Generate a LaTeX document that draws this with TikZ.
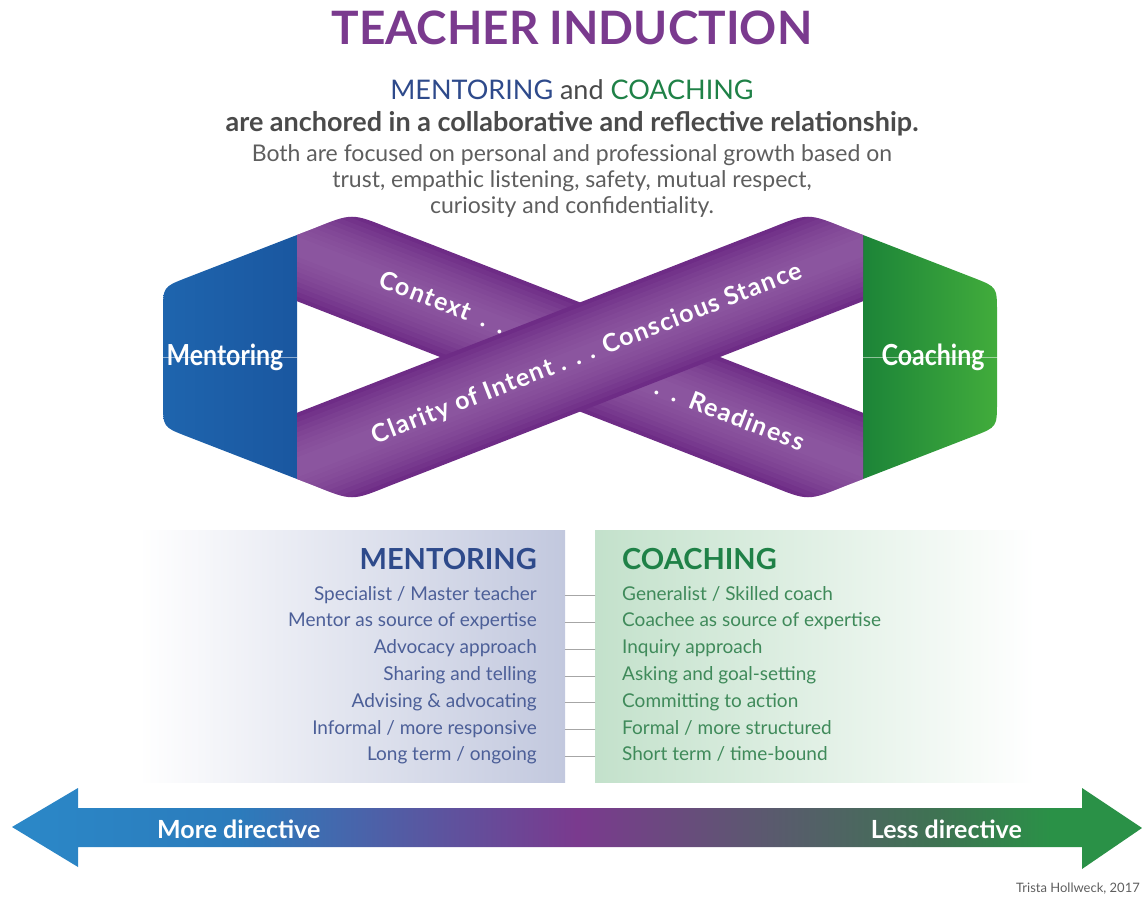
\documentclass[tikz,border=0pt]{standalone}
\usepackage{fontspec}
\setmainfont{Lato}
\newfontfamily\condfont[FakeStretch=0.86]{Lato}
\newfontfamily\ribbonfont[LetterSpace=5]{Lato}
\definecolor{titlepurple}{HTML}{7A3A8E}
\definecolor{mentorblue}{HTML}{2E4A8B}
\definecolor{mentoritem}{HTML}{4C5F98}
\definecolor{coachgreen}{HTML}{1F8147}
\definecolor{coachitem}{HTML}{3F8A5A}
\definecolor{leadgray}{HTML}{4A4A4A}
\definecolor{bodygray}{HTML}{5E5E5E}
\definecolor{ribbondark}{HTML}{6E2C86}
\definecolor{ribbonlight}{HTML}{A070B2}
\definecolor{capblueA}{HTML}{1F66AF}
\definecolor{capblueB}{HTML}{2C92D2}
\definecolor{capblueC}{HTML}{1A57A0}
\definecolor{capgreenA}{HTML}{1C8438}
\definecolor{capgreenB}{HTML}{2DA041}
\definecolor{capgreenC}{HTML}{45B03C}
\definecolor{panelblue}{HTML}{C2C8DE}
\definecolor{panelgreen}{HTML}{C3E1CB}
\definecolor{arrblue}{HTML}{2B88C8}
\definecolor{arrindigo}{HTML}{5A56A0}
\definecolor{arrslate}{HTML}{5C5870}
\definecolor{arrmoss}{HTML}{3E7352}
\definecolor{arrgreen}{HTML}{2A9147}
% the path box covers 25bp..75bp of the shading
\pgfdeclarehorizontalshading{directive}{100bp}{color(0bp)=(arrblue); color(25bp)=(arrblue); color(35bp)=(arrblue!80!mentorblue); color(43.5bp)=(arrindigo); color(50bp)=(titlepurple); color(58bp)=(arrslate); color(66bp)=(arrmoss); color(71bp)=(arrgreen); color(100bp)=(arrgreen)}
\tikzset{
  headline/.style={inner sep=0, anchor=base},
  capname/.style={inner sep=0, text=white, font=\condfont\bfseries\fontsize{29}{32}\selectfont},
  ribbontext/.style={inner sep=0, text=white, font=\ribbonfont\bfseries\fontsize{25}{27}\selectfont},
  mitem/.style={inner sep=0, anchor=base east, text=mentoritem, text height=13pt, text depth=4pt, font=\fontsize{19}{21}\selectfont},
  citem/.style={inner sep=0, anchor=base west, text=coachitem, text height=13pt, text depth=4pt, font=\fontsize{19}{21}\selectfont},
  rowline/.style={draw=gray!70, line width=.8pt},
  arrowtext/.style={inner sep=0, text=white, font=\bfseries\fontsize{25}{27}\selectfont}
}
\begin{document}
\begin{tikzpicture}[x=1pt, y=-1pt, line join=round, line cap=round]
  \useasboundingbox (0,0) rectangle (1143,901);
  % outline of the ribbon and one band between the caps
  \def\outline{(163,312) .. controls (163,287) .. (186,278) -- (315,228) .. controls (352,213) .. (389,228)
    -- (580,302) -- (771,228) .. controls (808,213) .. (845,228) -- (974,278) .. controls (997,287) .. (997,312)
    -- (997,402) .. controls (997,427) .. (974,436) -- (845,486) .. controls (808,501) .. (771,486)
    -- (580,412) -- (389,486) .. controls (352,501) .. (315,486) -- (186,436) .. controls (163,427) .. (163,402) -- cycle}
  \def\band#1#2{(297,{357+(#1)*110.4-(#2)}) -- (863,{357-(#1)*110.4-(#2)}) -- (863,{357-(#1)*110.4+(#2)}) -- (297,{357+(#1)*110.4+(#2)}) -- cycle}

  % headings
  \node[headline, text=titlepurple, font=\bfseries\fontsize{46}{50}\selectfont] (title) at (572,45) {TEACHER INDUCTION};
  \node[headline, font=\fontsize{27}{30}\selectfont] (sub) at (572,100)
    {\textcolor{mentorblue}{MENTORING} \textcolor{leadgray}{and} \textcolor{coachgreen}{COACHING}};
  \node[headline, text=leadgray, font=\bfseries\fontsize{27}{30}\selectfont] (lead) at (572,132)
    {are anchored in a collaborative and reflective relationship.};
  \node[headline, text=bodygray, font=\fontsize{23}{26}\selectfont] (body1) at (572,162)
    {Both are focused on personal and professional growth based on};
  \node[headline, text=bodygray, font=\fontsize{23}{26}\selectfont] (body2) at (572,188)
    {trust, empathic listening, safety, mutual respect,};
  \node[headline, text=bodygray, font=\fontsize{23}{26}\selectfont] (body3) at (572,214)
    {curiosity and confidentiality.};

  % ribbon
  \begin{scope}
    \clip \outline;
    \shade[left color=capblueA, middle color=capblueB, right color=capblueC] (150,200) rectangle (297,515);
    \shade[left color=capgreenA, middle color=capgreenB, right color=capgreenC] (863,200) rectangle (1010,515);
    \foreach \s in {-1,1} {
      \fill[ribbondark] \band{\s}{54.6};
      \foreach \w in {50,45,...,10}
        \fill[ribbonlight, opacity=.11] \band{\s}{\w};
    }
  \end{scope}
  \draw[white, opacity=.5, line width=.6pt] (150,357) -- (297,357);
  \draw[white, opacity=.5, line width=.6pt] (863,357) -- (1010,357);
  \node[capname] (mentorcap) at (225,357) {Mentoring};
  \node[capname] (coachcap) at (933,357) {Coaching};
  \node[ribbontext, rotate=-21.3] (context) at (443,302) {Context\enspace.\enspace.};
  \node[ribbontext, rotate=-21.3] (readiness) at (730,414) {.\enspace.\enspace Readiness};
  \node[ribbontext, rotate=21.3] (clarity) at (587,354) {Clarity of Intent . . . Conscious Stance};

  % comparison table
  \node[minimum width=426pt, minimum height=252pt, inner sep=0, left color=white, right color=panelblue] (mpanel) at (352,656) {};
  \node[minimum width=440pt, minimum height=252pt, inner sep=0, left color=panelgreen, right color=white] (cpanel) at (815,656) {};
  \node[headline, anchor=base east, text=mentorblue, font=\bfseries\fontsize{29}{32}\selectfont] (mhead) at (537,569) {MENTORING};
  \node[headline, anchor=base west, text=coachgreen, font=\bfseries\fontsize{29}{32}\selectfont] (chead) at (622,569) {COACHING};
  \foreach \txt [count=\i] in {Specialist / Master teacher, Mentor as source of expertise, Advocacy approach,
      Sharing and telling, Advising \& advocating, Informal / more responsive, Long term / ongoing}
    \node[mitem] (m\i) at (537,{600+(\i-1)*26.8}) {\txt};
  \foreach \txt [count=\i] in {Generalist / Skilled coach, Coachee as source of expertise, Inquiry approach,
      Asking and goal-setting, Committing to action, Formal / more structured, Short term / time-bound}
    \node[citem] (c\i) at (622,{600+(\i-1)*26.8}) {\txt};
  \foreach \i in {1,...,7}
    \draw[rowline] (mpanel.east |- m\i.center) -- (cpanel.west |- c\i.center);

  % directive scale
  \shade[shading=directive] (12,827) -- (78,788) -- (78,808) -- (1082,808) -- (1082,788) -- (1142,828)
    -- (1082,869) -- (1082,847) -- (78,847) -- (78,867) -- cycle;
  \node[arrowtext, anchor=west] (more) at (157,829) {More directive};
  \node[arrowtext, anchor=east] (less) at (1022,829) {Less directive};
  \node[inner sep=0, anchor=base east, text=bodygray, font=\fontsize{13}{15}\selectfont] (credit) at (1140,892) {Trista Hollweck, 2017};
\end{tikzpicture}
\end{document}
